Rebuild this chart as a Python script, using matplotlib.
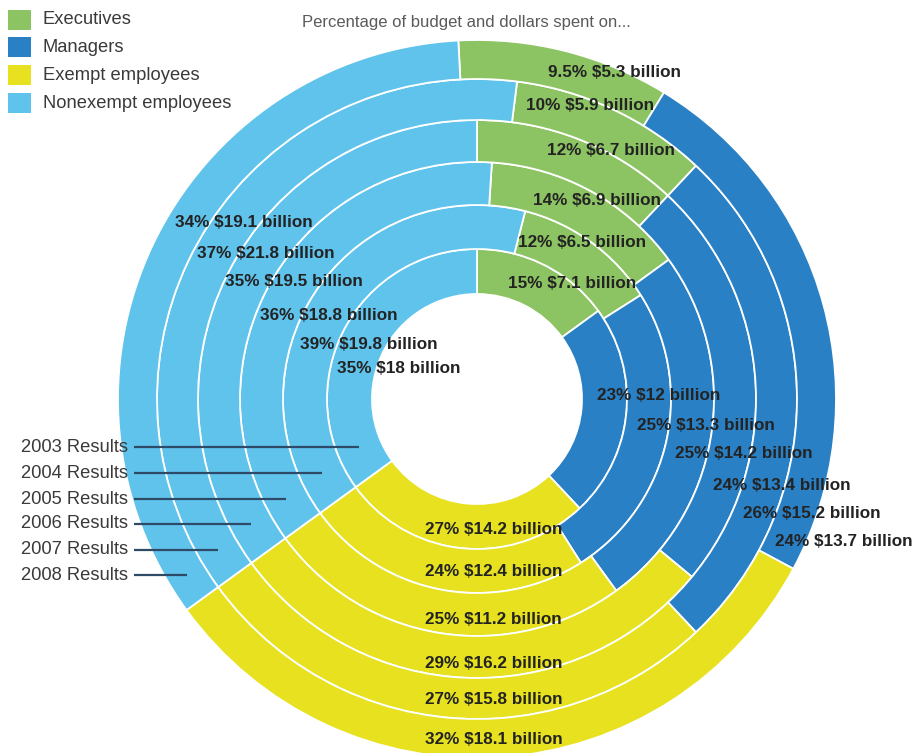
import numpy as np
import matplotlib
matplotlib.use("Agg")
import matplotlib.pyplot as plt
from matplotlib.patches import Rectangle

plt.rcParams["font.family"] = ["Liberation Sans", "DejaVu Sans"]

# ---- data -------------------------------------------------------------
years = ["2003", "2004", "2005", "2006", "2007", "2008"]
groups = ["Executives", "Managers", "Exempt employees", "Nonexempt employees"]
colors = ["#8dc463", "#2a80c5", "#e7e11f", "#5fc3ec"]

exec_pct = [15, 12, 14, 12, 10, 9.5]
exec_bn = ["7.1", "6.5", "6.9", "6.7", "5.9", "5.3"]
mgr_pct = [23, 25, 25, 24, 26, 24]
mgr_bn = ["12", "13.3", "14.2", "13.4", "15.2", "13.7"]
exempt_pct = [27, 24, 25, 29, 27, 32]
exempt_bn = ["14.2", "12.4", "11.2", "16.2", "15.8", "18.1"]
nonex_pct = [35, 39, 36, 35, 37, 34]
nonex_bn = ["18", "19.8", "18.8", "19.5", "21.8", "19.1"]

title = "Percentage of budget and dollars spent on..."

# ---- layout (pixel units, y measured from top) -------------------------
W, H = 915, 753
CX, CY = 477, 399
radii = [105, 150, 194, 237, 279, 320, 359]
split_angle = 216  # where exempt meets nonexempt on every ring

exec_pos = [(508, 283), (518, 242), (533, 200), (547, 150), (526, 105), (548, 72)]
mgr_pos = [(597, 395), (637, 425), (675, 453), (713, 485), (743, 513), (775, 542)]
exempt_pos = [(425, 530), (425, 572), (425, 619), (425, 664), (425, 700), (425, 740)]
nonex_pos = [(337, 368), (300, 344), (260, 315), (225, 281), (197, 253), (175, 222)]
result_y = [447, 473, 499, 524, 550, 575]

fig = plt.figure(figsize=(W / 100, H / 100), dpi=100)
ax = fig.add_axes([0, 0, 1, 1])


def py(y):
    return H - y


for i, yr in enumerate(years):
    vals = [exec_pct[i], mgr_pct[i], exempt_pct[i], nonex_pct[i]]
    total = sum(vals)
    start = split_angle - 360 * nonex_pct[i] / total
    ax.pie(vals, radius=radii[i + 1], startangle=start, counterclock=False,
           colors=colors, center=(CX, py(CY)),
           wedgeprops=dict(width=radii[i + 1] - radii[i],
                           edgecolor="white", linewidth=1.3))

ax.set_xlim(0, W)
ax.set_ylim(0, H)
ax.set_aspect("equal")
ax.axis("off")

label_kw = dict(ha="left", va="center", fontsize=12.3, fontweight="bold",
                color="#232323")
for pcts, bns, pos in [(exec_pct, exec_bn, exec_pos), (mgr_pct, mgr_bn, mgr_pos),
                       (exempt_pct, exempt_bn, exempt_pos),
                       (nonex_pct, nonex_bn, nonex_pos)]:
    for p, b, (x, y) in zip(pcts, bns, pos):
        ax.text(x, py(y), f"{p:g}% ${b} billion", **label_kw)

# ring captions with leader lines into each ring
for i, yr in enumerate(years):
    y = result_y[i]
    rmid = (radii[i] + radii[i + 1]) / 2
    dy = y - CY
    xend = CX - np.sqrt(rmid ** 2 - dy ** 2)
    ax.text(128, py(y), f"{yr} Results", ha="right", va="center",
            fontsize=13.2, color="#3a3a3a")
    ax.plot([134, xend], [py(y), py(y)], color="#2e4a66", lw=1.6,
            solid_capstyle="butt")

# legend
legend_y = [19.5, 47, 75, 103]
for g, c, y in zip(groups, colors, legend_y):
    ax.add_patch(Rectangle((8, py(y) - 10), 23, 20, facecolor=c, edgecolor="none"))
    ax.text(43, py(y), g, ha="left", va="center", fontsize=13.2, color="#3a3a3a")

ax.text(466, py(22), title, ha="center", va="center", fontsize=12,
        color="#5a5a5a")

fig.savefig("out.png", dpi=100)
